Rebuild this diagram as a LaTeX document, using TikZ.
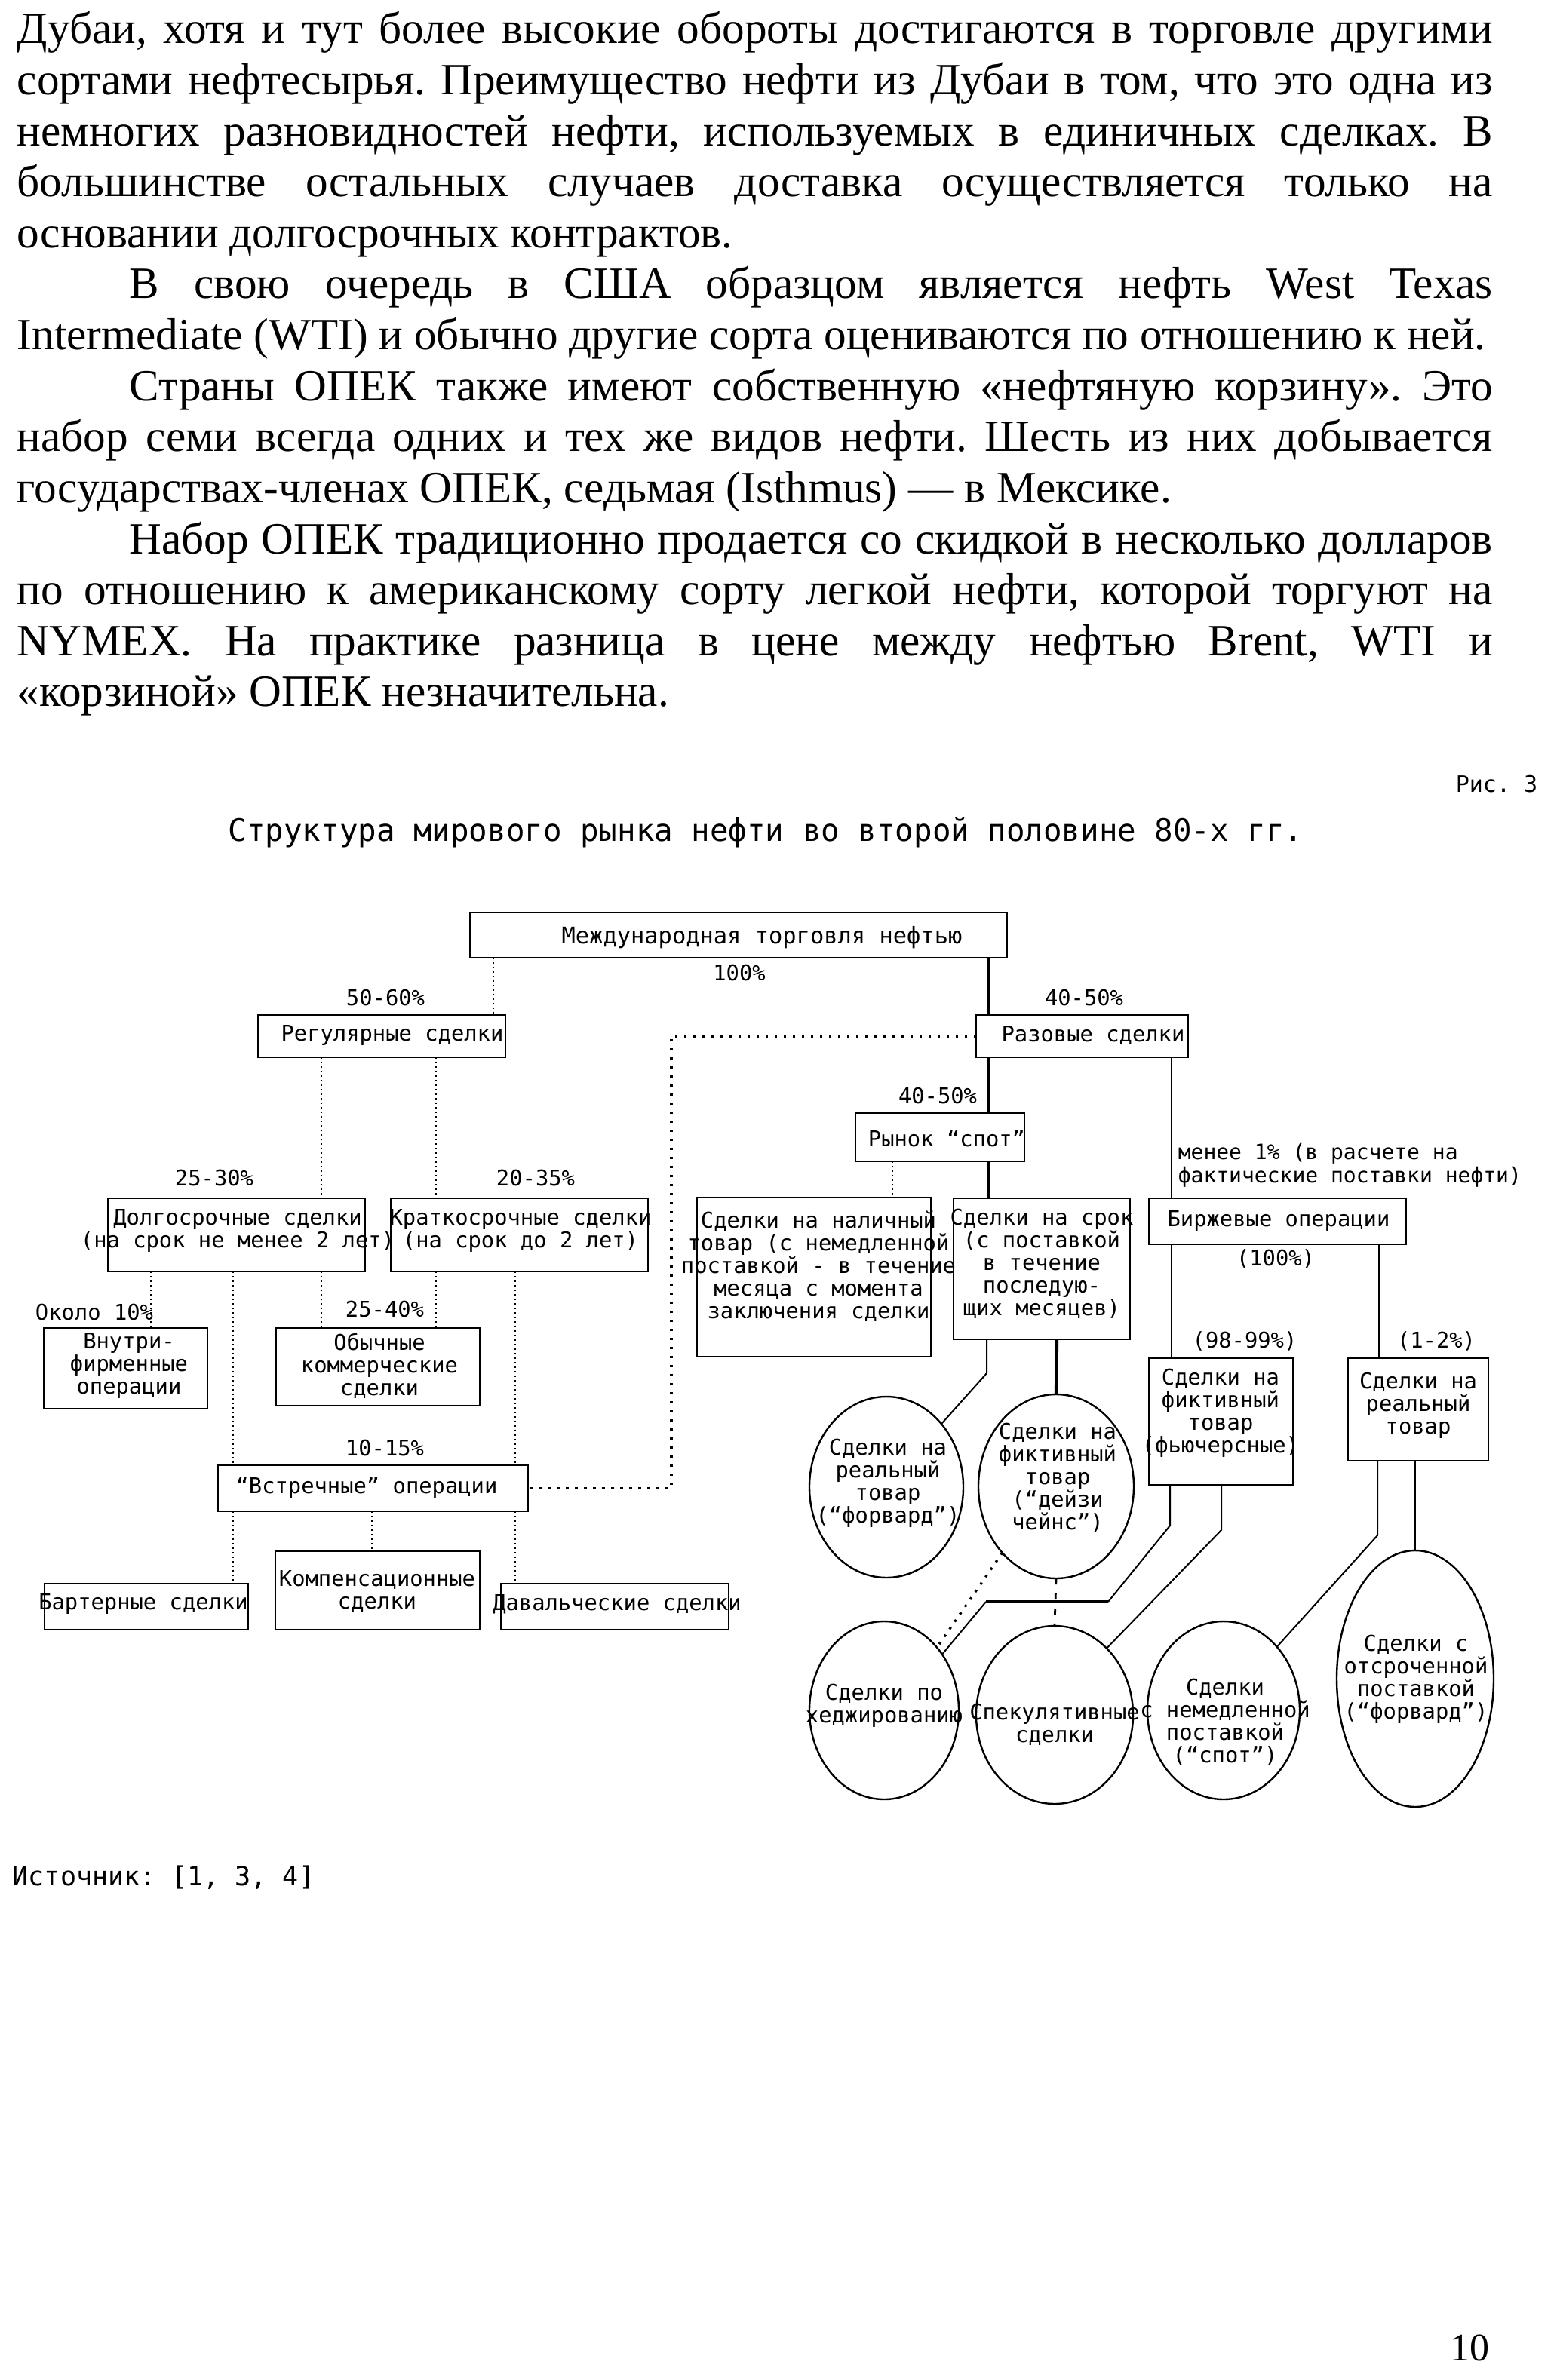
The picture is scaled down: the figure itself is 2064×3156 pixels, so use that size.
\documentclass[tikz,border=0pt]{standalone}
\usepackage{fontspec}
\setmainfont{Liberation Serif}
\newfontfamily\monof{DejaVu Sans Mono}
\usetikzlibrary{shapes.geometric,fit}
\newcommand\jfull[1]{\makebox[489pt][s]{#1}}
\newcommand\jind[1]{\makebox[451.75pt][s]{#1}}
\frenchspacing
\begin{document}
\begin{tikzpicture}[x=0.25pt,y=-0.25pt,
  bodyline/.style={inner sep=0, anchor=base west, font=\fontsize{14.8}{17}\selectfont},
  box/.style={draw, line width=0.6pt, inner sep=0pt, outer sep=0pt},
  lbl/.style={inner sep=0pt, font=\monof\fontsize{7.2}{7.5}\selectfont, align=center},
  ell/.style={ellipse, draw, line width=0.6pt, inner sep=0pt, outer sep=0pt},
  dl/.style={line width=0.5pt, densely dotted},
  sl/.style={line width=0.5pt},
  tl/.style={line width=1.1pt},
  sd/.style={line width=0.8pt, dash pattern=on 0.8pt off 2.2pt},
  dsh/.style={line width=0.7pt, dash pattern=on 2pt off 3pt}]
\useasboundingbox[fill=white] (0,0) rectangle (2064,3156);

% ---------- body text ----------
\node[bodyline] (t1) at (22,58) {\jfull{Дубаи, хотя и тут более высокие обороты достигаются в торговле другими}};
\node[bodyline] (t2) at (22,125.6) {\jfull{сортами нефтесырья. Преимущество нефти из Дубаи в том, что это одна из}};
\node[bodyline] (t3) at (22,193.2) {\jfull{немногих разновидностей нефти, используемых в единичных сделках. В}};
\node[bodyline] (t4) at (22,260.8) {\jfull{большинстве остальных случаев доставка осуществляется только на}};
\node[bodyline] (t5) at (22,328.4) {основании долгосрочных контрактов.};
\node[bodyline] (t6) at (171,396) {\jind{В свою очередь в США образцом является нефть West Texas}};
\node[bodyline] (t7) at (22,463.6) {Intermediate (WTI) и обычно другие сорта оцениваются по отношению к ней.};
\node[bodyline] (t8) at (171,531.2) {\jind{Страны ОПЕК также имеют собственную «нефтяную корзину». Это}};
\node[bodyline] (t9) at (22,598.8) {\jfull{набор семи всегда одних и тех же видов нефти. Шесть из них добывается}};
\node[bodyline] (t10) at (22,666.4) {государствах-членах ОПЕК, седьмая (Isthmus) — в Мексике.};
\node[bodyline] (t11) at (171,734) {\jind{Набор ОПЕК традиционно продается со скидкой в несколько долларов}};
\node[bodyline] (t12) at (22,801.6) {\jfull{по отношению к американскому сорту легкой нефти, которой торгуют на}};
\node[bodyline] (t13) at (22,869.2) {\jfull{NYMEX. На практике разница в цене между нефтью Brent, WTI и}};
\node[bodyline] (t14) at (22,936.8) {«корзиной» ОПЕК незначительна.};

% ---------- captions ----------
\node[inner sep=0, anchor=base east, font=\monof\fontsize{7.5}{8}\selectfont] (ris) at (2039,1050) {Рис. 3};
\node[inner sep=0, anchor=base, font=\monof\fontsize{10.2}{11}\selectfont] (title) at (1015,1115) {Структура мирового рынка нефти во второй половине 80-х гг.};

% ---------- boxes ----------
\node[box, fit={(623,1210) (1335,1270)}] (top) {};
\node[box, fit={(342,1346) (670,1402)}] (reg) {};
\node[box, fit={(1294,1346) (1575,1402)}] (raz) {};
\node[box, fit={(1134,1476) (1358,1540)}] (spot) {};
\node[box, fit={(143,1589) (484,1686)}] (dolg) {};
\node[box, fit={(518,1589) (859,1686)}] (krat) {};
\node[box, fit={(924,1588) (1234,1799)}] (nal) {};
\node[box, fit={(1264,1589) (1498,1776)}] (srok) {};
\node[box, fit={(1523,1589) (1864,1650)}] (birzh) {};
\node[box, fit={(58,1761) (275,1868)}] (vnut) {};
\node[box, fit={(366,1761) (636,1864)}] (obych) {};
\node[box, fit={(1523,1801) (1714,1969)}] (fict) {};
\node[box, fit={(1787,1801) (1973,1937)}] (real) {};
\node[box, fit={(289,1943) (700,2004)}] (vstr) {};
\node[box, fit={(59,2100) (329,2161)}] (bart) {};
\node[box, fit={(365,2057) (636,2161)}] (komp) {};
\node[box, fit={(664,2100) (966,2161)}] (daval) {};

% ---------- ellipses ----------
\node[ell, minimum width=51pt, minimum height=60pt] (e1) at (1175,1972) {};
\node[ell, minimum width=51.5pt, minimum height=61pt] (e2) at (1400,1971) {};
\node[ell, minimum width=49.5pt, minimum height=59pt] (e3) at (1172,2268) {};
\node[ell, minimum width=52pt, minimum height=59pt] (e4) at (1398,2274) {};
\node[ell, minimum width=50.5pt, minimum height=59pt] (e5) at (1622,2268) {};
\node[ell, minimum width=52pt, minimum height=85pt] (e6) at (1876,2226) {};

% ---------- box texts ----------
\node[lbl, font=\monof\fontsize{7.6}{8}\selectfont] (topt) at (1010,1243) {Международная торговля нефтью};
\node[lbl] (regt) at (520,1373) {Регулярные сделки};
\node[lbl] (razt) at (1449,1373) {Разовые сделки};
\node[lbl] (spott) at (1255,1510) {Рынок “спот”};
\node[lbl] (dolgt) at (315,1632) {Долгосрочные сделки\\(на срок не менее 2 лет)};
\node[lbl] (kratt) at (690,1632) {Краткосрочные сделки\\(на срок до 2 лет)};
\node[lbl] (nalt) at (1085,1679) {Сделки на наличный\\товар (с немедленной\\поставкой - в течение\\месяца с момента\\заключения сделки};
\node[lbl] (srokt) at (1381,1676) {Сделки на срок\\(с поставкой\\в течение\\последую-\\щих месяцев)};
\node[lbl] (birzht) at (1695,1619) {Биржевые операции};
\node[lbl] (vnutt) at (171,1811) {Внутри-\\фирменные\\операции};
\node[lbl] (obycht) at (503,1811) {Обычные\\коммерческие\\сделки};
\node[lbl] (fictt) at (1618,1874) {Сделки на\\фиктивный\\товар\\(фьючерсные)};
\node[lbl] (realt) at (1880,1864) {Сделки на\\реальный\\товар};
\node[lbl] (vstrt) at (486,1973) {“Встречные” операции};
\node[lbl] (bartt) at (190,2127) {Бартерные сделки};
\node[lbl] (kompt) at (500,2110) {Компенсационные\\сделки};
\node[lbl] (davalt) at (818,2127) {Давальческие сделки};
\node[lbl] (e1t) at (1177,1967) {Сделки на\\реальный\\товар\\(“форвард”)};
\node[lbl] (e2t) at (1402,1960) {Сделки на\\фиктивный\\товар\\(“дейзи\\чейнс”)};
\node[lbl] (e3t) at (1172,2262) {Сделки по\\хеджированию};
\node[lbl] (e4t) at (1398,2287) {Спекулятивные\\сделки};
\node[lbl] (e5t) at (1624,2284) {Сделки\\с немедленной\\поставкой\\(“спот”)};
\node[lbl] (e6t) at (1877,2227) {Сделки с\\отсроченной\\поставкой\\(“форвард”)};

% ---------- percentages / notes ----------
\node[lbl] (p100) at (980,1290) {100\%};
\node[lbl] (p5060) at (511,1323) {50-60\%};
\node[lbl] (p4050a) at (1437,1323) {40-50\%};
\node[lbl] (p4050b) at (1243,1453) {40-50\%};
\node[lbl] (p2530) at (284,1562) {25-30\%};
\node[lbl] (p2035) at (710,1562) {20-35\%};
\node[lbl, font=\monof\fontsize{7}{7.7}\selectfont, align=left, anchor=west] (pless) at (1561,1545) {менее 1\% (в расчете на\\фактические поставки нефти)};
\node[lbl] (p100b) at (1691,1669) {(100\%)};
\node[lbl] (p10) at (125,1740) {Около 10\%};
\node[lbl] (p2540) at (510,1736) {25-40\%};
\node[lbl] (p9899) at (1650,1778) {(98-99\%)};
\node[lbl] (p12) at (1904,1778) {(1-2\%)};
\node[lbl] (p1015) at (510,1920) {10-15\%};

\node[inner sep=0, anchor=base west, font=\monof\fontsize{8.75}{10}\selectfont] (src) at (16,2500) {Источник: [1, 3, 4]};
\node[inner sep=0, anchor=base, font=\fontsize{13}{15}\selectfont] (pageno) at (1948,3130) {10};

% ---------- connectors ----------
\draw[dl] (top.south -| 654,0) -- (reg.north -| 654,0);
\draw[tl] (top.south -| 1310,0) -- (raz.north -| 1310,0);
\coordinate (cj) at (890,0);
\draw[sd] (raz.west) -- (raz.west -| cj) -- (vstr.east -| cj) -- (vstr.east);
\draw[dl] (reg.south -| 426,0) -- (dolg.north -| 426,0);
\draw[dl] (reg.south -| 578,0) -- (krat.north -| 578,0);
\draw[dl] (dolg.south -| 200,0) -- (vnut.north -| 200,0);
\draw[dl] (dolg.south -| 309,0) -- (vstr.north -| 309,0);
\draw[dl] (dolg.south -| 426,0) -- (obych.north -| 426,0);
\draw[dl] (krat.south -| 578,0) -- (obych.north -| 578,0);
\draw[dl] (krat.south -| 683,0) -- (vstr.north -| 683,0);
\draw[dl] (vstr.south -| 309,0) -- (bart.north -| 309,0);
\draw[dl] (vstr.south -| 493,0) -- (komp.north -| 493,0);
\draw[dl] (vstr.south -| 683,0) -- (daval.north -| 683,0);
\draw[tl] (raz.south -| 1310,0) -- (spot.north -| 1310,0);
\draw[tl] (spot.south -| 1310,0) -- (srok.north -| 1310,0);
\draw[dl] (spot.south -| 1183,0) -- (nal.north -| 1183,0);
\draw[sl] (raz.south -| 1553,0) -- (birzh.north -| 1553,0);
\draw[sl] (birzh.south -| 1553,0) -- (fict.north -| 1553,0);
\draw[sl] (birzh.south -| 1828,0) -- (real.north -| 1828,0);
\draw[sl] (srok.south -| 1308,0) -- (1308,1821) -- (e1.49);
\draw[tl] (srok.south -| 1401,0) -- (e2.north);
\coordinate (k1) at (1469,2124);
\coordinate (k2) at (1307,2124);
\draw[sl] (fict.south -| 1551,0) -- (1551,2023) -- (k1);
\draw[tl] (k1) -- (k2);
\draw[sl] (k2) -- (e3.44);
\draw[sl] (fict.south -| 1619,0) -- (1619,2029) -- (e4.52);
\draw[sl] (real.south -| 1826,0) -- (1826,2036) -- (e5.50);
\draw[sl] (real.south -| e6.north) -- (e6.north);
\draw[dsh] (e2.south) -- (e4.north);
\draw[sd] (e2.231) -- (e3.50);
\end{tikzpicture}
\end{document}
